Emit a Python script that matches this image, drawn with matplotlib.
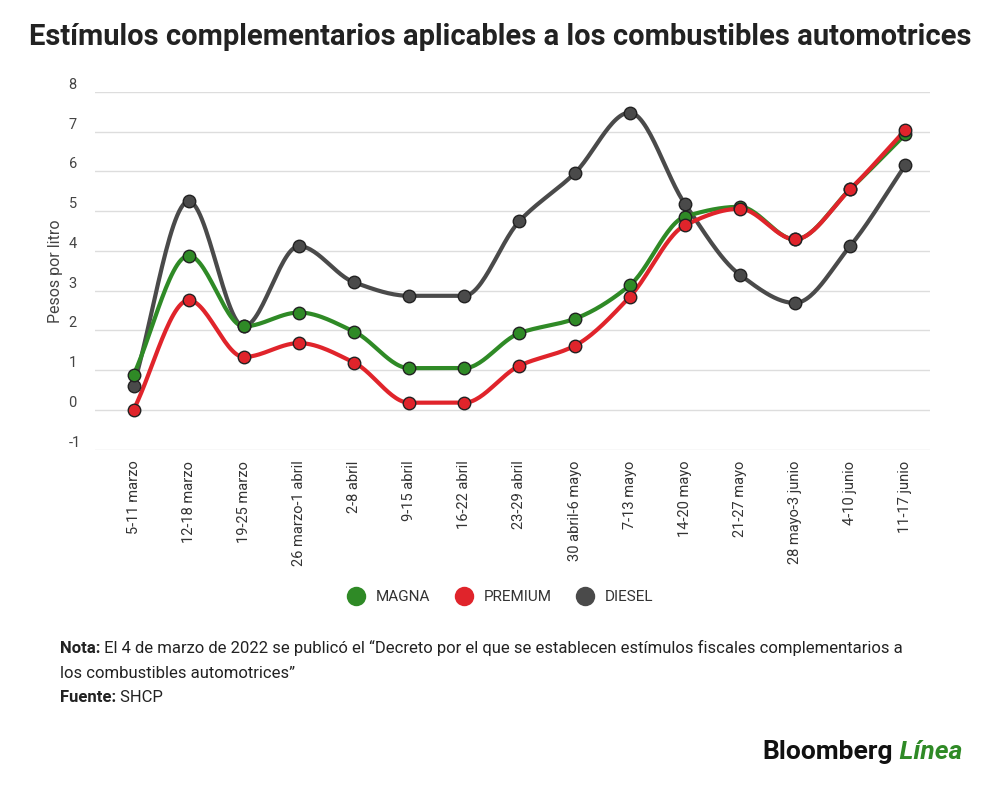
import numpy as np
import matplotlib.pyplot as plt
from matplotlib.lines import Line2D

plt.rcParams["font.family"] = ["Roboto", "DejaVu Sans"]

semanas = ["5-11 marzo", "12-18 marzo", "19-25 marzo", "26 marzo-1 abril", "2-8 abril",
           "9-15 abril", "16-22 abril", "23-29 abril", "30 abril-6 mayo", "7-13 mayo",
           "14-20 mayo", "21-27 mayo", "28 mayo-3 junio", "4-10 junio", "11-17 junio"]
magna = [0.88, 3.88, 2.10, 2.45, 1.97, 1.05, 1.05, 1.93, 2.29, 3.13, 4.86, 5.11, 4.29, 5.55, 6.93]
premium = [0.0, 2.76, 1.33, 1.68, 1.19, 0.18, 0.18, 1.11, 1.61, 2.84, 4.64, 5.06, 4.29, 5.55, 7.04]
diesel = [0.61, 5.25, 2.10, 4.12, 3.21, 2.87, 2.87, 4.75, 5.95, 7.48, 5.19, 3.40, 2.69, 4.12, 6.15]


def monotone(x, y, n=30):
    """Monotone cubic (Fritsch-Carlson / d3 monotoneX style)."""
    x = np.asarray(x, float); y = np.asarray(y, float)
    h = np.diff(x); d = np.diff(y) / h
    m = np.zeros_like(y)
    m[0], m[-1] = d[0], d[-1]
    for i in range(1, len(y) - 1):
        if d[i - 1] * d[i] > 0:
            m[i] = 2 / (1 / d[i - 1] + 1 / d[i])
    xs, ys = [], []
    for i in range(len(h)):
        t = np.linspace(0, 1, n)
        h00 = 2*t**3 - 3*t**2 + 1; h10 = t**3 - 2*t**2 + t
        h01 = -2*t**3 + 3*t**2; h11 = t**3 - t**2
        xs.append(x[i] + t*h[i])
        ys.append(h00*y[i] + h10*h[i]*m[i] + h01*y[i+1] + h11*h[i]*m[i+1])
    return np.concatenate(xs), np.concatenate(ys)


def text_pair(fig, x, y, bold, rest, size, c1, c2, style2="normal", weight2="normal"):
    # bold lead-in followed by another text on the same line
    r = fig.canvas.get_renderer()
    t = fig.text(x, y, bold, fontsize=size, fontweight="bold", color=c1, va="center")
    w = t.get_window_extent(r).width / fig.bbox.width
    fig.text(x + w, y, rest, fontsize=size, color=c2, va="center", fontstyle=style2, fontweight=weight2)


fig = plt.figure(figsize=(10, 7.86), dpi=100)
ax = fig.add_axes([0.095, 0.428, 0.835, 0.455])
x = np.arange(len(semanas))
series = [(diesel, "#4a4a4a", "DIESEL"), (magna, "#2f8a26", "MAGNA"), (premium, "#e0242b", "PREMIUM")]
for vals, col, name in series:
    sx, sy = monotone(x, vals)
    ax.plot(sx, sy, color=col, lw=3, zorder=2)
    ax.plot(x, vals, "o", color=col, ms=9, mec="#222222", mew=1, zorder=3)

ax.set_xlim(-0.7, 14.45)
ax.set_ylim(-1, 8)
ax.set_yticks(range(-1, 9))
ax.set_yticklabels([str(v) for v in range(-1, 9)])
ax.set_xticks(x)
ax.set_xticklabels(semanas, rotation=90, fontsize=10.5, color="#333333")
ax.tick_params(axis="y", length=0, labelsize=10.5, labelcolor="#444444", pad=-2)
ax.tick_params(axis="x", length=0, pad=8)
for lbl in ax.get_yticklabels():
    lbl.set_verticalalignment("bottom")
    lbl.set_horizontalalignment("left")
    lbl.set_x(-0.035)
ax.grid(axis="y", color="#dddddd", lw=1)
for s in ax.spines.values():
    s.set_visible(False)
ax.set_ylabel("Pesos por litro", fontsize=11.5, color="#444444", labelpad=4)

fig.text(0.5, 0.953, "Estímulos complementarios aplicables a los combustibles automotrices",
         ha="center", va="center", fontsize=21, fontweight="bold", color="#222222")

handles = [Line2D([], [], marker="o", ls="", color=c, ms=14, mec="none") for _, c, _ in series[1:] + series[:1]]
labels = ["MAGNA", "PREMIUM", "DIESEL"]
fig.legend(handles, labels, loc="center", bbox_to_anchor=(0.497, 0.24), ncol=3, frameon=False,
           fontsize=11, handletextpad=0.3, columnspacing=1.2, labelcolor="#333333")

text_pair(fig, 0.06, 0.175, "Nota:", " El 4 de marzo de 2022 se publicó el “Decreto por el que se establecen estímulos fiscales complementarios a",
          12, "#222222", "#222222")
fig.text(0.06, 0.143, "los combustibles automotrices”", fontsize=12, color="#222222", va="center")
text_pair(fig, 0.06, 0.112, "Fuente:", " SHCP", 12, "#222222", "#222222")

text_pair(fig, 0.762, 0.043, "Bloomberg", " Línea", 19, "#111111", "#2f8a26", style2="italic", weight2="bold")

fig.savefig("out.png", dpi=100, facecolor="white")
